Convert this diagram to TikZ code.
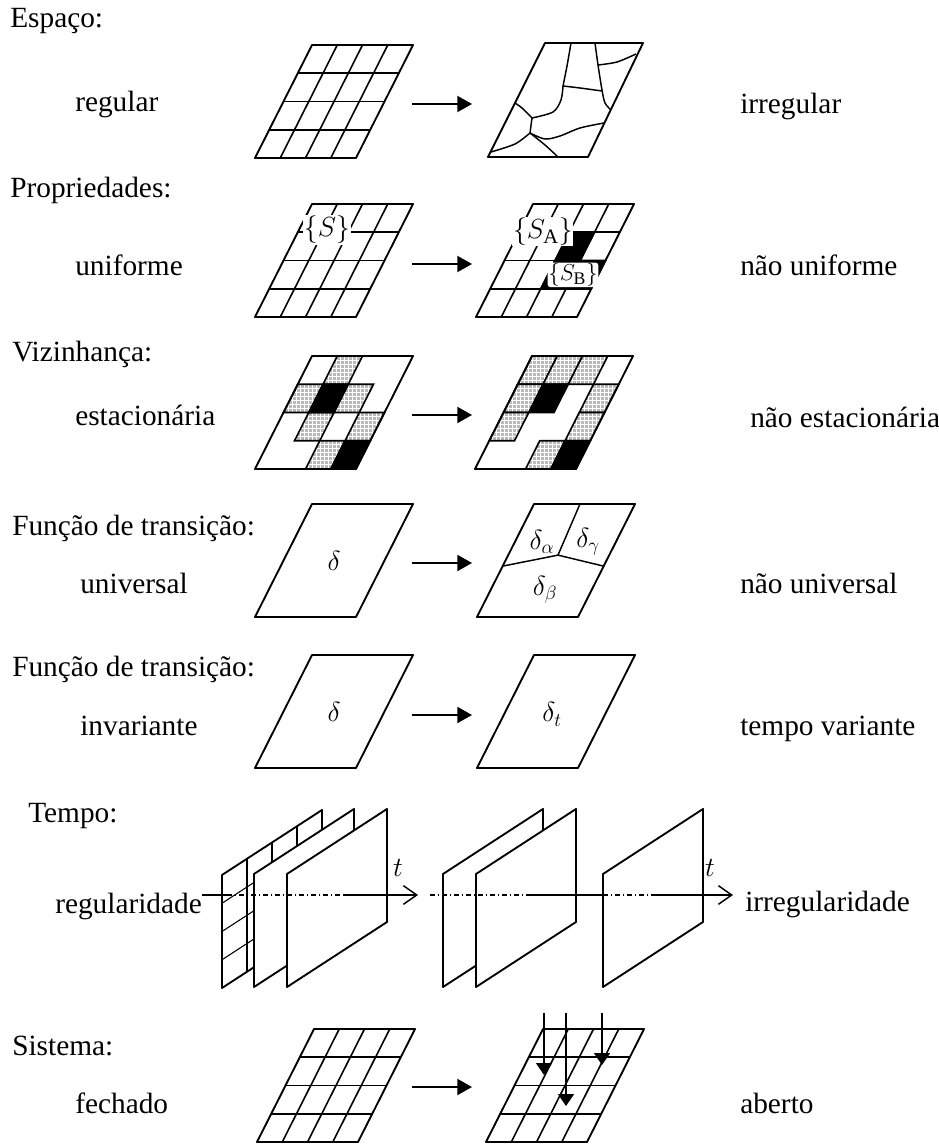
\documentclass[tikz,border=0pt]{standalone}
\usepackage{fontspec}
\setmainfont{Liberation Serif}
\usetikzlibrary{arrows.meta,patterns}

\begin{document}
\begin{tikzpicture}[
    x=0.75pt, y=-0.75pt,
    font=\fontsize{22}{26}\selectfont,
    lbl/.style={anchor=base west, inner sep=0pt},
    tag/.style={fill=white, inner sep=0.5pt},
    edge/.style={line width=1.4pt, line join=round},
    cell/.style={line width=1.2pt},
    curve/.style={line width=1.1pt},
    shade/.style={fill=gray!55, postaction={pattern=grid, pattern color=white},
                  postaction={draw, line width=1.2pt}},
    dark/.style={draw, line width=1.2pt, fill=black},
    lattice/.style={x={(18.94pt,0pt)}, y={(10.69pt,21.19pt)}},
    sheet/.style={x={(18.75pt,12.19pt)}, y={(0pt,21.19pt)}},
    arr/.style={-{Triangle[length=11pt,width=12pt]}, line width=1.5pt},
    drop/.style={-{Triangle[length=9pt,width=12pt]}, line width=1.2pt},
    taxis/.style={-{Straight Barb[length=10pt,width=14pt]}, line width=1.1pt},
    hidden/.style={line width=1.1pt, dash pattern=on 4pt off 2pt on 1pt off 2pt}
  ]
  \useasboundingbox (0,0) rectangle (938,1144);

  % Espaco
  \node[lbl] (espaco) at (10,28) {Espaço:};
  \node[lbl] (regular) at (75,112) {regular};
  \node[lbl] (irregular) at (740,114) {irregular};
  \begin{scope}[shift={(255,158)}, lattice]
    \foreach \i in {1,2,3} {\draw[cell] (\i,0) -- (\i,4); \draw[cell] (0,\i) -- (4,\i);}
    \draw[edge] (0,0) -- (4,0) -- (4,4) -- (0,4) -- cycle;
  \end{scope}
  \draw[edge] (488,157) -- (588,157) -- (643,43) -- (545,43) -- cycle;
  \draw[curve] plot[smooth] coordinates {(571,43) (567,66) (563,86)};
  \draw[curve] plot[smooth] coordinates {(595,43) (598,65) (602,90) (605,103) (611,110)};
  \draw[curve] plot[smooth] coordinates {(598,65) (617,62) (636,54)};
  \draw[curve] plot[smooth] coordinates {(563,86) (580,88) (602,91)};
  \draw[curve] plot[smooth] coordinates {(563,86) (561,100) (553,112) (532,118)};
  \draw[curve] plot[smooth] coordinates {(532,118) (522,108) (515,103)};
  \draw[curve] plot[smooth] coordinates {(532,118) (530,133)};
  \draw[curve] plot[smooth] coordinates {(530,133) (545,139) (560,136) (580,128) (604,123)};
  \draw[curve] plot[smooth] coordinates {(530,133) (515,144) (491,152)};
  \draw[curve] plot[smooth] coordinates {(530,133) (545,145) (558,157)};
  \coordinate (a1) at (412,104); \coordinate (b1) at (472,104);
  \draw[arr] (a1) -- (b1);

  % Propriedades
  \node[lbl] (prop) at (10,198) {Propriedades:};
  \node[lbl] (unif) at (75,276) {uniforme};
  \node[lbl] (nunif) at (740,276) {não uniforme};
  \begin{scope}[shift={(255,317)}, lattice]
    \foreach \i in {1,2,3} {\draw[cell] (\i,0) -- (\i,4); \draw[cell] (0,\i) -- (4,\i);}
    \draw[edge] (0,0) -- (4,0) -- (4,4) -- (0,4) -- cycle;
    \node[fill=white, inner sep=1pt] (s) at (1.11,3.08) {$\{S\}$};
  \end{scope}
  \begin{scope}[shift={(476,317)}, lattice]
    \foreach \u/\v in {2/2,2/1,3/1} \draw[dark] (\u,\v) -- +(1,0) -- +(1,1) -- +(0,1) -- cycle;
    \foreach \i in {1,2,3} {\draw[cell] (\i,0) -- (\i,4); \draw[cell] (0,\i) -- (4,\i);}
    \draw[edge] (0,0) -- (4,0) -- (4,4) -- (0,4) -- cycle;
    \node[tag] (sa) at (0.95,3.01) {$\{S_{\mathrm{A}}\}$};
    \node[tag, rounded corners=2pt, font=\fontsize{19}{21}\selectfont] (sb) at (3.0,1.49) {$\{S_{\mathrm{B}}\}$};
  \end{scope}
  \coordinate (a2) at (412,264); \coordinate (b2) at (472,264);
  \draw[arr] (a2) -- (b2);

  % Vizinhanca
  \node[lbl] (viz) at (12,362) {Vizinhança:};
  \node[lbl] (est) at (75,425) {estacionária};
  \node[lbl] (nest) at (750,427) {não estacionária};
  \begin{scope}[shift={(255,469)}, lattice]
    \foreach \u/\v in {1/3,0/2,2/2,1/1,3/1,2/0} \path[shade] (\u,\v) -- +(1,0) -- +(1,1) -- +(0,1) -- cycle;
    \foreach \u/\v in {1/2,3/0} \draw[dark] (\u,\v) -- +(1,0) -- +(1,1) -- +(0,1) -- cycle;
    \draw[edge] (0,0) -- (4,0) -- (4,4) -- (0,4) -- cycle;
  \end{scope}
  \begin{scope}[shift={(475,469)}, lattice]
    \foreach \u/\v in {0/3,1/3,2/3,0/2,3/2,0/1,3/1,2/0} \path[shade] (\u,\v) -- +(1,0) -- +(1,1) -- +(0,1) -- cycle;
    \foreach \u/\v in {1/2,3/0} \draw[dark] (\u,\v) -- +(1,0) -- +(1,1) -- +(0,1) -- cycle;
    \draw[edge] (0,0) -- (4,0) -- (4,4) -- (0,4) -- cycle;
  \end{scope}
  \coordinate (a3) at (412,415); \coordinate (b3) at (472,415);
  \draw[arr] (a3) -- (b3);

  % Funcao de transicao: universal
  \node[lbl] (func1) at (12,535) {Função de transição:};
  \node[lbl] (univ) at (80,593) {universal};
  \node[lbl] (nuniv) at (740,593) {não universal};
  \begin{scope}[shift={(255,617)}, lattice]
    \draw[edge] (0,0) -- (4,0) -- (4,4) -- (0,4) -- cycle;
    \node (d1) at (2,2) {$\delta$};
  \end{scope}
  \begin{scope}[shift={(477,617)}, lattice]
    \draw[edge] (0,0) -- (4,0) -- (4,4) -- (0,4) -- cycle;
    \draw[curve] (1.82,4) -- (1.97,2.19);
    \draw[curve] (0,1.8) -- (1.97,2.19) -- (4,1.8);
    \node (da) at (1.08,2.65) {$\delta_\alpha$};
    \node (dg) at (2.9,2.65) {$\delta_\gamma$};
    \node (db) at (2.15,0.96) {$\delta_\beta$};
  \end{scope}
  \coordinate (a4) at (412,563); \coordinate (b4) at (472,563);
  \draw[arr] (a4) -- (b4);

  % Funcao de transicao: invariante
  \node[lbl] (func2) at (12,676) {Função de transição:};
  \node[lbl] (inv) at (80,735) {invariante};
  \node[lbl] (tvar) at (740,735) {tempo variante};
  \begin{scope}[shift={(255,768)}, lattice]
    \draw[edge] (0,0) -- (4,0) -- (4,4) -- (0,4) -- cycle;
    \node (d2) at (2,2) {$\delta$};
  \end{scope}
  \begin{scope}[shift={(477,768)}, lattice]
    \draw[edge] (0,0) -- (4,0) -- (4,4) -- (0,4) -- cycle;
    \node (dt) at (1.9,1.9) {$\delta_t$};
  \end{scope}
  \coordinate (a5) at (412,715); \coordinate (b5) at (472,715);
  \draw[arr] (a5) -- (b5);

  % Tempo
  \node[lbl] (tempo) at (28,822) {Tempo:};
  \node[lbl] (regul) at (55,913) {regularidade};
  \node[lbl] (irreg) at (745,911) {irregularidade};
  \begin{scope}[shift={(222,988)}, sheet]
    \filldraw[edge, fill=white] (0,0) -- (4,0) -- (4,4) -- (0,4) -- cycle;
    \foreach \i in {1,2,3} {\draw[line width=0.8pt] (\i,0) -- (\i,4); \draw[line width=0.8pt] (0,\i) -- (4,\i);}
  \end{scope}
  \foreach \px in {254,287,443,476,603}
    \filldraw[edge, fill=white, shift={(\px,987)}, sheet] (0,0) -- (4,0) -- (4,4) -- (0,4) -- cycle;
  \coordinate (t0) at (regul.east |- 0,895);
  \coordinate (t1) at (227,895); \coordinate (t2) at (343,895); \coordinate (t3) at (418,895);
  \draw[line width=1.1pt] (t0) -- (t1);
  \draw[hidden] (t1) -- (t2);
  \draw[taxis] (t2) -- (t3);
  \coordinate (u0) at (430,895); \coordinate (u1) at (530,895); \coordinate (u2) at (603,895);
  \coordinate (u3) at (653,895); \coordinate (u4) at (733,895);
  \draw[hidden] (u0) -- (u1);
  \draw[line width=1.1pt] (u1) -- (u2);
  \draw[hidden] (u2) -- (u3);
  \draw[taxis] (u3) -- (u4);
  \node (tl) at (398,868) {$t$};
  \node (tr) at (710,868) {$t$};

  % Sistema
  \node[lbl] (sis) at (12,1055) {Sistema:};
  \node[lbl] (fech) at (75,1113) {fechado};
  \node[lbl] (aber) at (740,1113) {aberto};
  \foreach \px in {257,486} {
    \begin{scope}[shift={(\px,1142)}, lattice]
      \foreach \i in {1,2,3} {\draw[cell] (\i,0) -- (\i,4); \draw[cell] (0,\i) -- (4,\i);}
      \draw[edge] (0,0) -- (4,0) -- (4,4) -- (0,4) -- cycle;
    \end{scope}
  }
  \coordinate (p1) at (544,1013); \coordinate (q1) at (544,1075);
  \coordinate (p2) at (566,1013); \coordinate (q2) at (566,1106);
  \coordinate (p3) at (602,1013); \coordinate (q3) at (602,1065);
  \draw[drop] (p1) -- (q1);
  \draw[drop] (p2) -- (q2);
  \draw[drop] (p3) -- (q3);
  \coordinate (a7) at (412,1087); \coordinate (b7) at (472,1087);
  \draw[arr] (a7) -- (b7);
\end{tikzpicture}
\end{document}
